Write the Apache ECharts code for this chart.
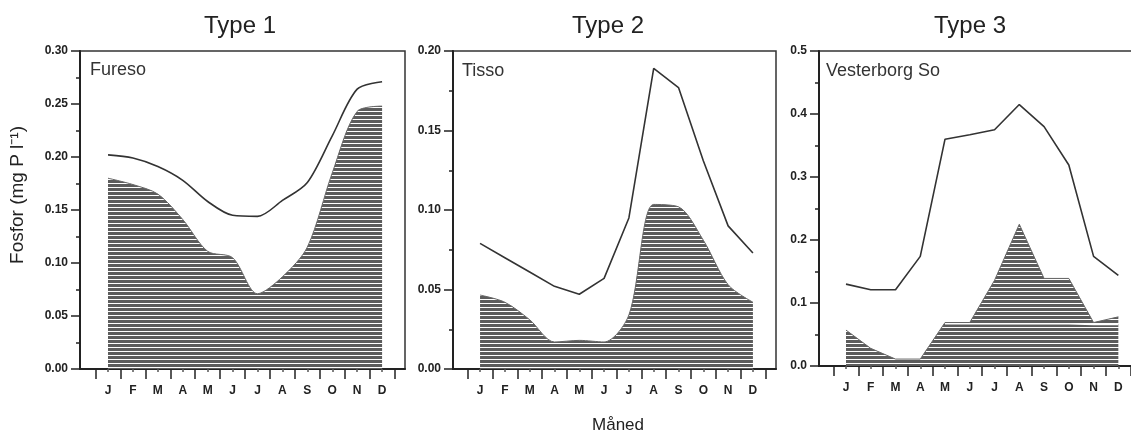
<!DOCTYPE html>
<html>
<head>
<meta charset="utf-8">
<script src="https://cdn.jsdelivr.net/npm/echarts@6/dist/echarts.min.js"></script>
<style>
html,body{margin:0;padding:0;background:#fff;}
#chart{width:1131px;height:436px;}
</style>
</head>
<body>
<div id="chart"></div>
<script>
// ---- data ----
const months = ['J','F','M','A','M','J','J','A','S','O','N','D'];
const panelTitles = ['Type 1','Type 2','Type 3'];
const lakeNames = ['Fureso','Tisso','Vesterborg So'];
const yAxisName = 'Fosfor (mg P l\u207B\u00B9)';
const xAxisName = 'M\u00E5ned';

// Type 1 - Fureso
const furesoTotal = [0.202, 0.199, 0.191, 0.178, 0.158, 0.145, 0.144, 0.159, 0.176, 0.220, 0.264, 0.271];
const furesoFill  = [0.180, 0.174, 0.165, 0.141, 0.111, 0.105, 0.071, 0.087, 0.115, 0.185, 0.243, 0.248];
// Type 2 - Tisso
const tissoTotal = [0.079, 0.070, 0.061, 0.052, 0.047, 0.057, 0.095, 0.189, 0.177, 0.131, 0.090, 0.073];
const tissoFill  = [0.0465, 0.042, 0.031, 0.017, 0.018, 0.017, 0.034, 0.1035, 0.102, 0.081, 0.053, 0.042];
// Type 3 - Vesterborg So
const vesterTotal = [0.130, 0.121, 0.121, 0.174, 0.360, 0.367, 0.375, 0.415, 0.380, 0.319, 0.174, 0.144];
const vesterFill  = [0.057, 0.028, 0.011, 0.011, 0.069, 0.069, 0.136, 0.225, 0.139, 0.139, 0.069, 0.078];
const vesterBase  = [null, null, null, null, 0.067, 0.067, 0.067, 0.067, 0.067, 0.067, 0.066, 0.066];

const yMax = [0.30, 0.20, 0.5];
const yStep = [0.05, 0.05, 0.1];
const yDecimals = [2, 2, 1];

// ---- layout ----
const grids = [
  {left: 80, top: 51, width: 325, height: 318},
  {left: 453, top: 51, width: 323, height: 318},
  {left: 819, top: 51, width: 334, height: 315}
];
const xRange = [[-1.125, 11.92], [-1.09, 11.93], [-1.09, 12.4]];

// hatch pattern
const pc = document.createElement('canvas');
pc.width = 4; pc.height = 4;
const pctx = pc.getContext('2d');
pctx.fillStyle = '#ffffff'; pctx.fillRect(0,0,4,4);
pctx.fillStyle = '#5c5c5c'; pctx.fillRect(0,0,4,3);
const hatch = {image: pc, repeat: 'repeat'};

const pair = arr => arr.map((v,i) => [i, v]);
const font = 'Liberation Sans, Arial, sans-serif';
const axisColor = '#222';
const monthIdx = months.map((m,i) => i);
const boundaries = [-0.5,0.5,1.5,2.5,3.5,4.5,5.5,6.5,7.5,8.5,9.5,10.5,11.5];

const xAxes = [], yAxes = [];
grids.forEach((g, k) => {
  xAxes.push({
    type: 'value', gridIndex: k, min: xRange[k][0], max: xRange[k][1],
    position: 'bottom',
    axisLine: {show: true, onZero: false, lineStyle: {color: axisColor, width: 2}},
    axisTick: {show: true, customValues: boundaries, length: 10, lineStyle: {color: axisColor, width: 1.5}},
    axisLabel: {show: true, customValues: monthIdx, margin: 16, formatter: v => months[Math.round(v)],
      color: '#222', fontFamily: font, fontWeight: 'bold', fontSize: 12},
    splitLine: {show: false}
  });
  xAxes.push({
    type: 'value', gridIndex: k, min: xRange[k][0], max: xRange[k][1],
    position: 'bottom',
    axisLine: {show: false, onZero: false},
    axisTick: {show: true, customValues: monthIdx, length: 3, lineStyle: {color: '#555', width: 1.5}},
    axisLabel: {show: false},
    splitLine: {show: false}
  });
  yAxes.push({
    type: 'value', gridIndex: k, min: 0, max: yMax[k], interval: yStep[k],
    position: 'left',
    axisLine: {show: true, onZero: false, lineStyle: {color: axisColor, width: 2}},
    axisTick: {show: true, length: 9, lineStyle: {color: axisColor, width: 1.5}},
    minorTick: {show: true, splitNumber: 2, length: 4, lineStyle: {color: axisColor, width: 1.5}},
    axisLabel: {margin: 12, formatter: v => v.toFixed(yDecimals[k]), color: '#222',
      fontFamily: font, fontWeight: 'bold', fontSize: 12},
    splitLine: {show: false}
  });
});

const fills = [furesoFill, tissoFill, vesterFill];
const totals = [furesoTotal, tissoTotal, vesterTotal];
const smoothFill = [0.3, 0.3, false];
const smoothTotal = [0.3, false, false];
const series = [];
grids.forEach((g, k) => {
  series.push({
    type: 'line', xAxisIndex: 2*k, yAxisIndex: k, data: pair(fills[k]),
    symbol: 'none', smooth: smoothFill[k],
    lineStyle: {color: '#666', width: 1},
    areaStyle: {color: hatch, opacity: 1},
    z: 2
  });
  series.push({
    type: 'line', xAxisIndex: 2*k, yAxisIndex: k, data: pair(totals[k]),
    symbol: 'none', smooth: smoothTotal[k],
    lineStyle: {color: '#333', width: 1.6},
    z: 4
  });
});
series.push({
  type: 'line', xAxisIndex: 4, yAxisIndex: 2, data: pair(vesterBase),
  symbol: 'none', lineStyle: {color: '#ffffff', width: 1.5}, z: 3
});

const textEls = [];
const titleX = [240, 608, 970];
panelTitles.forEach((t, k) => {
  textEls.push({type: 'text', x: titleX[k], y: 26,
    style: {text: t, font: '24px ' + font, fill: '#222', textAlign: 'center', textVerticalAlign: 'middle'}});
});
const lakeX = [90, 462, 826], lakeY = [70, 71, 71];
lakeNames.forEach((t, k) => {
  textEls.push({type: 'text', x: lakeX[k], y: lakeY[k],
    style: {text: t, font: '18px ' + font, fill: '#333', textAlign: 'left', textVerticalAlign: 'middle'}});
});
textEls.push({type: 'text', x: 18, y: 195, rotation: Math.PI/2,
  style: {text: yAxisName, font: '19px ' + font, fill: '#222', textAlign: 'center', textVerticalAlign: 'middle'}});
textEls.push({type: 'text', x: 618, y: 425,
  style: {text: xAxisName, font: '17px ' + font, fill: '#222', textAlign: 'center', textVerticalAlign: 'middle'}});

const chart = echarts.init(document.getElementById('chart'), null, {renderer: 'canvas'});
chart.setOption({
  animation: false,
  backgroundColor: '#fff',
  grid: grids.map(g => Object.assign({show: true, borderColor: '#333', borderWidth: 1.5, backgroundColor: 'transparent', outerBoundsMode: 'none'}, g)),
  xAxis: xAxes,
  yAxis: yAxes,
  series: series,
  graphic: textEls
});
</script>
</body>
</html>
